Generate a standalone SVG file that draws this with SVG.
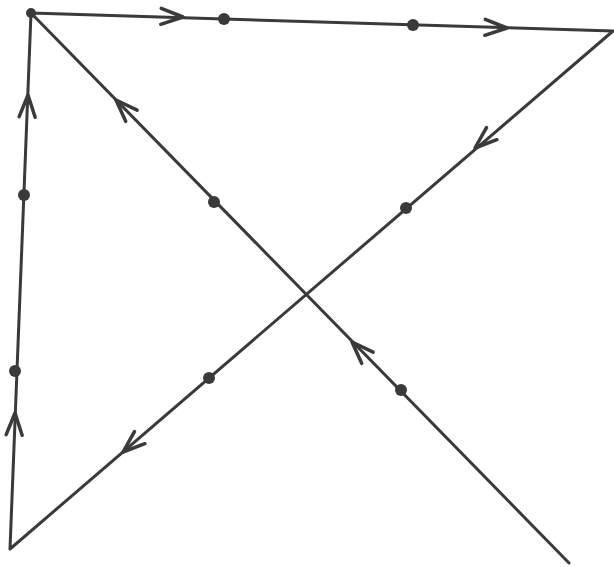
<svg xmlns="http://www.w3.org/2000/svg" xmlns:xlink="http://www.w3.org/1999/xlink" width="614" height="567" viewBox="0 0 614 567">
<style>
.edge{stroke:#3a3a3a;stroke-width:3;fill:none;stroke-linecap:round;stroke-linejoin:round}
.barb{stroke:#3a3a3a;stroke-width:3.5;fill:none;stroke-linecap:round;stroke-linejoin:round}
.dot{fill:#3a3a3a}
</style>
<defs>
<path id="chev" class="barb" d="M-22,-8 L0,0 L-22,8"/>
</defs>
<rect width="614" height="567" fill="#ffffff"/>
<g id="connectors">
<path class="edge" d="M31,13 L613,31 L10,549 L31,13 L569,563"/>
<use href="#chev" transform="translate(183,17) rotate(1.8)"/>
<use href="#chev" transform="translate(507,28) rotate(1.8)"/>
<use href="#chev" transform="translate(475,148) rotate(139.3)"/>
<use href="#chev" transform="translate(123,452) rotate(139.3)"/>
<use href="#chev" transform="translate(15,413) rotate(-87.8)"/>
<use href="#chev" transform="translate(28,95) rotate(-87.8)"/>
<use href="#chev" transform="translate(116,100) rotate(-134.4)"/>
<use href="#chev" transform="translate(352,342) rotate(-134.4)"/>
</g>
<g id="v-topleft"><circle class="dot" cx="31" cy="13" r="5"/></g>
<g id="p-top1"><circle class="dot" cx="224" cy="19" r="6"/></g>
<g id="p-top2"><circle class="dot" cx="413" cy="25" r="6"/></g>
<g id="p-right1"><circle class="dot" cx="406" cy="208" r="6"/></g>
<g id="p-right2"><circle class="dot" cx="209" cy="378" r="6"/></g>
<g id="p-left1"><circle class="dot" cx="15" cy="371" r="6"/></g>
<g id="p-left2"><circle class="dot" cx="24" cy="195" r="6"/></g>
<g id="p-diag1"><circle class="dot" cx="214" cy="202" r="6"/></g>
<g id="p-diag2"><circle class="dot" cx="401" cy="390" r="6"/></g>
</svg>
